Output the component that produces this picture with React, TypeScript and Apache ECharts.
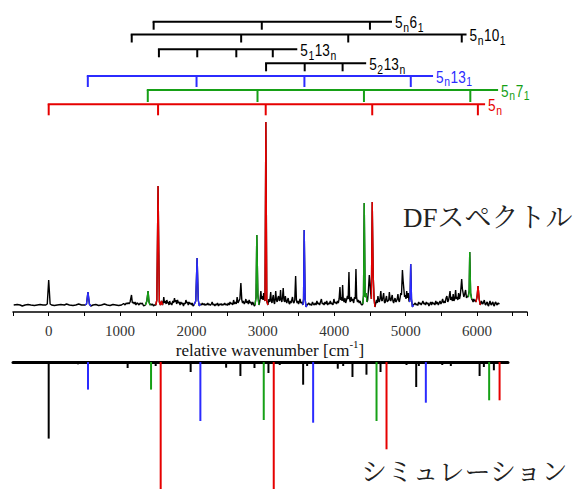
import React, { useEffect, useRef } from "react";
import * as echarts from "echarts";

// ---------- DATA ----------
// Observed DF spectrum: [relative wavenumber (cm-1), intensity (arb.)]
const dfBlack: [number, number][] = [
  [-490, 0], [-440, 0.5], [-400, 0], [-370, -1], [-330, 0], [-290, 0.5], [-250, 0], [-200, -0.5], [-160, 0],
  [-120, 0.5], [-80, 0], [-40, 0], [-20, 1], [0, 25], [20, 1], [40, 0], [80, -0.5], [120, 0], [170, 0.5],
  [220, 0], [250, 1], [290, 0], [340, -0.5], [380, 0], [420, 1], [460, 0], [500, 0],
  [620, 0], [660, 0.5], [700, -0.5], [740, 0], [780, 1], [820, 0], [860, -0.5], [900, 0.5], [940, 0],
  [980, -0.5], [1020, 0], [1050, 1.5], [1070, 0], [1085, 2], [1100, 1], [1112, 2.5], [1125, 1], [1140, 3],
  [1160, 10], [1172, 2], [1185, 3], [1198, 1], [1210, 3], [1222, 0], [1235, 2], [1250, 1.5], [1265, 0],
  [1280, 2], [1295, 1], [1310, 2], [1330, -1],
  [1430, 1], [1442, 0], [1455, 1], [1468, -1], [1480, 0],
  [1605, 3], [1612, 8], [1622, 2], [1635, 4], [1645, 1], [1655, 5], [1665, 2], [1675, 3], [1685, 0],
  [1695, 4], [1705, 1], [1715, 2], [1725, 0], [1738, 4], [1750, 2], [1762, 7], [1772, 3], [1782, 5],
  [1792, 1], [1805, 5], [1815, 2], [1828, 3], [1840, 0], [1852, 3], [1864, 1], [1876, 2], [1888, -1],
  [1900, 2], [1912, 1], [1922, 5], [1934, 2], [1945, 3], [1955, 0], [1966, 3], [1978, 1], [1990, 2],
  [2002, 0], [2012, 2], [2022, -1],
  [2140, 0], [2152, 2], [2165, 0], [2178, 1.5], [2190, -0.5], [2203, 1], [2215, 0], [2228, 2], [2240, 0],
  [2252, 1], [2265, -0.5], [2278, 1], [2290, 3], [2302, 0], [2315, 1], [2328, -1], [2340, 1], [2352, 0],
  [2365, 2], [2378, -1], [2390, 1], [2402, 0], [2415, 1.5], [2428, -0.5], [2440, 1], [2452, 0], [2465, 2],
  [2478, 0], [2490, 1], [2503, -0.5], [2515, 2], [2528, 0], [2540, 3], [2552, 1], [2565, 2], [2578, 0],
  [2590, 5], [2602, 1], [2615, 3], [2628, 1], [2640, 8], [2652, 2], [2665, 4], [2678, 6], [2692, 22],
  [2705, 5], [2716, 2], [2728, 4], [2740, 1], [2752, 3], [2762, 6], [2772, 2], [2785, 4], [2797, 1],
  [2808, 5], [2820, 2], [2832, 3], [2845, 0], [2858, 3], [2870, 1], [2880, -1],
  [2955, 3], [2962, 6], [2972, 14], [2982, 6], [2992, 9], [3002, 5], [3012, 12], [3020, 6], [3026, 5],
  [3075, 2], [3085, 6], [3095, 3], [3103, 8], [3110, 13], [3118, 4], [3128, 2], [3138, 7], [3146, 10],
  [3155, 3], [3164, 1], [3172, 6], [3180, 14], [3190, 5], [3200, 3], [3210, 7], [3220, 9], [3230, 4],
  [3240, 6], [3248, 15], [3256, 5], [3266, 3], [3276, 8], [3285, 17], [3295, 5], [3305, 3], [3315, 9],
  [3325, 4], [3335, 2], [3345, 5], [3355, 7], [3365, 2], [3375, 1], [3385, 4], [3395, 2], [3405, 5],
  [3415, 8], [3425, 3], [3435, 2], [3447, 5], [3459, 29], [3470, 5], [3480, 2], [3490, 4], [3500, 1],
  [3510, 3], [3520, 6], [3532, 2], [3545, 3],
  [3632, 1], [3645, 2], [3657, 0], [3670, 1], [3682, -0.5], [3695, 3], [3707, 1], [3720, 0], [3732, 2],
  [3745, 0], [3757, 4], [3770, 1], [3782, 2], [3795, 0], [3807, 3], [3820, 6], [3832, 1], [3845, 2],
  [3857, 0], [3870, 3], [3882, 1], [3895, 4], [3907, 0], [3920, 2], [3932, 1], [3945, 4], [3957, 1],
  [3970, 2], [3982, 0], [3995, 6], [4007, 2], [4020, 3], [4032, 1], [4045, 4], [4057, 2], [4068, 6],
  [4080, 18], [4090, 5], [4100, 8], [4110, 4], [4117, 20], [4126, 6], [4138, 3], [4150, 7], [4160, 2],
  [4172, 5], [4185, 9], [4195, 6], [4206, 33], [4215, 6], [4225, 3], [4236, 8], [4248, 4], [4260, 6],
  [4272, 2], [4284, 8], [4294, 6], [4304, 36], [4314, 7], [4326, 3], [4338, 5], [4350, 2], [4362, 4],
  [4375, 1], [4388, 0],
  [4468, 5], [4478, 14], [4491, 30], [4500, 22], [4510, 12], [4516, 8],
  [4582, 2], [4592, 5], [4602, 2], [4612, 9], [4622, 4], [4632, 3], [4642, 7], [4652, 14], [4662, 5],
  [4672, 4], [4682, 8], [4692, 12], [4702, 3], [4712, 2], [4722, 6], [4732, 9], [4742, 3], [4752, 5],
  [4762, 4], [4772, 13], [4782, 6], [4792, 4], [4802, 7], [4812, 10], [4822, 4], [4832, 2], [4842, 5],
  [4852, 7], [4862, 3], [4872, 4], [4882, 6], [4892, 11], [4902, 5], [4912, 3], [4922, 7], [4932, 12],
  [4942, 10], [4955, 35], [4965, 24], [4975, 16], [4985, 8], [4995, 10], [5005, 6], [5015, 14], [5025, 7],
  [5037, 12], [5047, 4],
  [5122, 1], [5134, 2], [5146, 0], [5158, 1], [5170, -0.5], [5182, 3], [5194, 1], [5206, 2], [5218, 0],
  [5230, 2], [5242, 4], [5254, 1], [5266, 2], [5278, 0], [5290, 3], [5302, 1], [5314, 2], [5326, -1],
  [5338, 1], [5350, 3], [5362, 0], [5374, 3], [5386, 1], [5398, 2], [5410, 0], [5422, 4], [5434, 1],
  [5446, 3], [5458, 0], [5470, 2], [5482, 4], [5494, 1], [5506, 3], [5518, 6], [5530, 2], [5542, 4],
  [5554, 2], [5566, 7], [5578, 9], [5590, 3], [5602, 5], [5614, 10], [5622, 14], [5632, 5], [5644, 8],
  [5656, 4], [5666, 11], [5676, 4], [5688, 6], [5700, 15], [5710, 6], [5722, 8], [5732, 5], [5742, 12],
  [5754, 6], [5766, 10], [5776, 18], [5785, 26], [5795, 16], [5805, 12], [5815, 8], [5827, 11], [5840, 15],
  [5852, 7], [5864, 9], [5874, 8],
  [5935, 5], [5945, 3], [5955, 6], [5965, 4], [5975, 5], [5983, 3],
  [6052, 1], [6062, 4], [6072, 2], [6082, 1], [6092, 3], [6102, 5], [6112, 1], [6122, 0], [6132, 2],
  [6142, 3], [6152, 0], [6162, -1], [6172, 2], [6182, 4], [6192, 1], [6202, 0], [6212, 2], [6222, 3],
  [6232, 0], [6242, -1], [6252, 2], [6262, 3], [6272, 1], [6282, 0], [6292, 2], [6302, 1], [6312, 2],
];

// 5_n progression (red)
const dfRed: [number, number][][] = [
  [[1500, 0], [1515, 5], [1532, 119], [1550, 3], [1565, 0], [1580, 4], [1595, 0]],
  [[3030, 4], [3042, 183], [3055, 4], [3070, 0]],
  [[4520, 6], [4532, 103], [4545, 30], [4558, 6], [4570, -2]],
  [[5985, 3], [6000, 8], [6014, 19], [6030, 6], [6045, 0]],
];
// 5_n 13_1 progression (blue)
const dfBlue: [number, number][][] = [
  [[510, 0], [530, 1], [550, 13], [570, 1], [590, -1]],
  [[2035, 0], [2060, 4], [2079, 47], [2095, 5], [2110, -1], [2125, 1]],
  [[3560, 0], [3570, 6], [3579, 75], [3592, 6], [3605, -2], [3620, 0]],
  [[5055, 3], [5063, 8], [5071, 41], [5082, 6], [5095, -2], [5110, 0]],
];
// 5_n 7_1 progression (green)
const dfGreen: [number, number][][] = [
  [[1355, 0], [1375, 4], [1392, 14], [1405, 3], [1420, 0]],
  [[2890, 0], [2905, 8], [2915, 70], [2930, 10], [2945, 0]],
  [[4400, 1], [4410, 10], [4420, 102], [4432, 8], [4445, 12], [4460, 3]],
  [[5880, 8], [5890, 14], [5898, 53], [5910, 12], [5925, 6]],
];

// Simulated stick spectrum: [wavenumber, intensity]
const simBlack: [number, number][] = [
  [0, 76.6], [411, 2.3], [901, 2], [1106, 6], [1499, 4], [1989, 10], [2486, 5.7], [2546, 2], [2686, 14],
  [2883, 6], [3079, 11], [3237, 3], [3565, 22.7], [3621, 4], [4050, 6.7], [4126, 4], [4256, 15],
  [4452, 12.7], [4649, 10], [5013, 3], [5149, 25], [5186, 4], [5514, 3], [5634, 4], [6037, 14],
  [6097, 5], [6237, 8.3],
];
const simRed: [number, number][] = [[1569, 160], [3153, 175], [4733, 87.3], [6317, 38.3]];
const simBlue: [number, number][] = [[551, 27.6], [2125, 59], [3705, 60.7], [5284, 40.7]];
const simGreen: [number, number][] = [[1434, 27.6], [3013, 58], [4593, 59], [6171, 38.3]];

// Progression brackets ("_" marks a subscript character)
const bracketLabels: string[] = ["5_n6_1", "5_n10_1", "5_113_n", "5_213_n", "5_n13_1", "5_n7_1", "5_n"];
const bracketTicks: number[][] = [
  [1470, 2985, 4500],
  [1163, 2696, 4196, 5786],
  [1544, 2081, 2628, 3139],
  [3045, 3586, 4117],
  [548, 2071, 3582, 5072],
  [1388, 2925, 4416, 5906],
  [0, 1532, 3040, 4532, 6012],
];
const bracketEnds: number[] = [4809, 5853, 3482, 4447, 5384, 6295, 6113];

// ---------- STYLE / LAYOUT ----------
const RED = "#e60000";
const BLUE = "#2b2bff";
const GREEN = "#16a016";
const BLACK = "#000000";
const bracketColors = [BLACK, BLACK, BLACK, BLACK, BLUE, GREEN, RED];
const bracketRowY = [21.7, 34.5, 49.3, 63.3, 76, 90, 104.3];
const bracketTickLen = [8, 8, 8, 8, 11, 12, 11];
const LABEL_FONT = '"Liberation Sans", Arial, sans-serif';
const MAIN_SIZE = 17;
const SUB_SIZE = 13;
const SQUEEZE = 0.8;
const SERIF = '"Liberation Serif", "Times New Roman", serif';
const JP = '"Liberation Serif", "Noto Serif CJK JP", "Noto Sans CJK JP", serif';

let measureCtx: CanvasRenderingContext2D | null = null;
function measure(text: string, size: number): number {
  if (!measureCtx) measureCtx = document.createElement("canvas").getContext("2d");
  if (!measureCtx) return text.length * size * 0.55;
  measureCtx.font = `${size}px ${LABEL_FONT}`;
  return measureCtx.measureText(text).width;
}

function parseLabel(s: string): { t: string; sub: boolean }[] {
  const out: { t: string; sub: boolean }[] = [];
  for (let i = 0; i < s.length; i++) {
    if (s[i] === "_") {
      out.push({ t: s[i + 1], sub: true });
      i++;
    } else {
      const last = out[out.length - 1];
      if (last && !last.sub) last.t += s[i];
      else out.push({ t: s[i], sub: false });
    }
  }
  return out;
}

function mergedBlack(): [number, number][] {
  const all: [number, number][] = [...dfBlack];
  [...dfRed, ...dfBlue, ...dfGreen].forEach((seg) => seg.forEach((p) => all.push(p)));
  all.sort((a, b) => a[0] - b[0]);
  return all;
}

export default function App() {
  const ref = useRef<HTMLDivElement>(null);

  useEffect(() => {
    if (!ref.current) return;
    const chart = echarts.init(ref.current, undefined, { renderer: "svg" });

    const segSeries = (segs: [number, number][][], color: string) =>
      segs.map((seg) => ({
        type: "line",
        xAxisIndex: 0,
        yAxisIndex: 0,
        data: seg,
        showSymbol: false,
        symbol: "none",
        lineStyle: { color, width: 1.4 },
        z: 4,
        silent: true,
      }));

    const stickSeries = (data: [number, number][], color: string, z: number) => ({
      type: "bar",
      xAxisIndex: 1,
      yAxisIndex: 1,
      data,
      barWidth: 2,
      barGap: "-100%",
      itemStyle: { color },
      z,
      silent: true,
    });

    const option: any = {
      animation: false,
      backgroundColor: "#ffffff",
      grid: [
        { left: 13, width: 514, top: 122, height: 190 },
        { left: 13, width: 495, top: 362, height: 127 },
      ],
      xAxis: [
        {
          gridIndex: 0,
          type: "value",
          min: -500,
          max: 6700,
          interval: 500,
          axisLine: { onZero: false, lineStyle: { color: "#000", width: 1.5 } },
          axisTick: { show: true, length: 4, lineStyle: { color: "#000", width: 1 } },
          axisLabel: {
            formatter: (v: number) => (v % 1000 === 0 ? String(v) : ""),
            color: "#333",
            fontFamily: SERIF,
            fontSize: 15,
            margin: 11,
          },
          splitLine: { show: false },
          name: "{a|relative wavenumber [cm}{s|-1}{a|]}",
          nameLocation: "middle",
          nameGap: 25,
          nameTextStyle: {
            rich: {
              a: { fontFamily: SERIF, fontSize: 17, color: "#111", lineHeight: 20, verticalAlign: "bottom" },
              s: { fontFamily: SERIF, fontSize: 11, color: "#111", lineHeight: 20, verticalAlign: "top" },
            },
          },
        },
        {
          gridIndex: 1,
          type: "value",
          min: -500,
          max: 6435,
          position: "top",
          axisLine: { onZero: false, lineStyle: { color: "#000", width: 3 } },
          axisTick: { show: false },
          axisLabel: { show: false },
          splitLine: { show: false },
        },
      ],
      yAxis: [
        { gridIndex: 0, type: "value", min: -7, max: 183, show: false, splitLine: { show: false } },
        { gridIndex: 1, type: "value", min: 0, max: 127, inverse: true, show: false, splitLine: { show: false } },
      ],
      series: [
        {
          type: "line",
          xAxisIndex: 0,
          yAxisIndex: 0,
          data: mergedBlack(),
          showSymbol: false,
          symbol: "none",
          lineStyle: { color: BLACK, width: 1.4 },
          z: 3,
          silent: true,
        },
        ...segSeries(dfRed, RED),
        ...segSeries(dfBlue, BLUE),
        ...segSeries(dfGreen, GREEN),
        stickSeries(simBlack, BLACK, 3),
        stickSeries(simRed, RED, 4),
        stickSeries(simBlue, BLUE, 4),
        stickSeries(simGreen, GREEN, 4),
        {
          type: "custom",
          xAxisIndex: 0,
          yAxisIndex: 0,
          clip: false,
          silent: true,
          z: 5,
          data: bracketTicks.map((_, i) => [i, 0]),
          renderItem: (params: any, api: any) => {
            const i = api.value(0) as number;
            const ticks = bracketTicks[i];
            const color = bracketColors[i];
            const y = bracketRowY[i];
            const tl = bracketTickLen[i];
            const x0 = api.coord([ticks[0], 0])[0];
            const x1 = api.coord([bracketEnds[i], 0])[0];
            const children: any[] = [
              { type: "line", shape: { x1: x0 - 1, y1: y, x2: x1, y2: y }, style: { stroke: color, lineWidth: 2 } },
            ];
            ticks.forEach((t) => {
              const x = api.coord([t, 0])[0];
              children.push({
                type: "line",
                shape: { x1: x, y1: y, x2: x, y2: y + tl },
                style: { stroke: color, lineWidth: 2 },
              });
            });
            let cx = x1 + 3;
            parseLabel(bracketLabels[i]).forEach((tok) => {
              const size = tok.sub ? SUB_SIZE : MAIN_SIZE;
              children.push({
                type: "text",
                x: cx,
                y: y + (tok.sub ? 5.5 : 0.5),
                scaleX: SQUEEZE,
                style: {
                  text: tok.t,
                  fill: color,
                  fontSize: size,
                  fontFamily: LABEL_FONT,
                  align: "left",
                  verticalAlign: "middle",
                },
              });
              cx += measure(tok.t, size) * SQUEEZE + 0.6;
            });
            return { type: "group", children };
          },
        },
      ],
      graphic: [
        {
          type: "text",
          left: 403,
          top: 204,
          style: { text: "DFスペクトル", fontSize: 27, fontFamily: JP, fill: "#222" },
          silent: true,
        },
        {
          type: "text",
          left: 361,
          top: 459,
          style: { text: "シミュレーション", fontSize: 26, fontFamily: JP, fill: "#222" },
          silent: true,
        },
      ],
    };

    chart.setOption(option);
    return () => chart.dispose();
  }, []);

  return (
    <div
      ref={ref}
      style={{ position: "fixed", left: 0, top: 0, width: 583, height: 489, background: "#fff" }}
    />
  );
}
